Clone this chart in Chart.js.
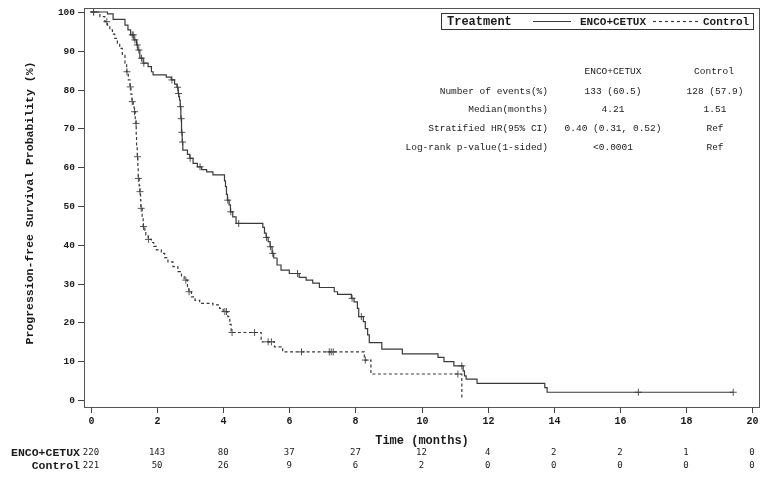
<!DOCTYPE html>
<html>
<head>
<meta charset="utf-8">
<script src="https://cdn.jsdelivr.net/npm/chart.js@4/dist/chart.umd.min.js"></script>
<style>
  body { margin: 0; background: #fff; }
  canvas { display: block; }
</style>
</head>
<body>
<canvas id="km" width="765" height="479"></canvas>
<script>
// Kaplan-Meier steps: time (months) where the curve drops, value after the drop (%)
const encoTime = [0, 0.5, 0.67, 1.03, 1.12, 1.2, 1.3, 1.38, 1.42, 1.48, 1.58, 1.73, 1.83, 1.88, 2.28, 2.43, 2.53, 2.6, 2.64, 2.66,
  2.68, 2.7, 2.72, 2.74, 2.76, 2.78, 2.92, 2.99, 3.09, 3.22, 3.35, 3.5, 3.69, 4.04, 4.07, 4.1, 4.13, 4.18, 4.22, 4.29,
  4.39, 5.2, 5.25, 5.3, 5.36, 5.42, 5.48, 5.53, 5.63, 5.75, 6.0, 6.3, 6.51, 6.71, 6.91, 7.36, 7.46, 7.88, 7.96, 8.06,
  8.1, 8.24, 8.3, 8.37, 8.42, 8.8, 9.42, 10.5, 10.68, 10.98, 11.26, 11.3, 11.35, 11.68, 13.73, 13.8, 19.43];
const encoSurv = [100, 99.5, 98.1, 96.6, 95.4, 94.1, 92.8, 91.5, 90.2, 88.1, 86.8, 85.9, 84.6, 83.8, 83.2, 82.5, 81.4, 80.6, 79.0, 78.2,
  77.3, 75.6, 72.5, 69.0, 66.5, 64.4, 63.3, 62.3, 61.0, 60.1, 59.4, 58.8, 58.0, 56.5, 55.0, 53.0, 51.5, 50.3, 48.5, 47.2,
  45.5, 44.5, 43.0, 41.9, 40.8, 39.5, 37.8, 36.6, 34.8, 33.5, 32.6, 31.6, 30.9, 30.1, 29.0, 27.9, 27.2, 26.2, 25.3, 23.6,
  21.5, 20.2, 18.4, 16.8, 14.8, 13.1, 11.9, 11.0, 9.9, 8.8, 7.5, 6.2, 5.4, 4.3, 3.2, 2.0, 2.0];
const encoCensor = [0.08, 1.25, 1.28, 1.33, 1.4, 1.45, 1.53, 1.6, 2.45, 2.62, 2.65, 2.71, 2.73, 2.75, 2.77, 3.0, 3.3,
  4.14, 4.23, 4.47, 5.31, 5.43, 5.5, 6.25, 7.9, 8.18, 11.22, 16.56, 19.43];

const ctrlTime = [0, 0.27, 0.42, 0.5, 0.57, 0.65, 0.72, 0.8, 0.87, 0.95, 1.03, 1.08, 1.13, 1.18, 1.21, 1.24, 1.28, 1.31, 1.34, 1.36,
  1.37, 1.38, 1.4, 1.42, 1.43, 1.46, 1.48, 1.5, 1.51, 1.55, 1.58, 1.63, 1.66, 1.73, 1.83, 1.9, 1.98, 2.13, 2.23, 2.33,
  2.48, 2.63, 2.74, 2.82, 2.92, 2.96, 3.04, 3.15, 3.29, 3.69, 3.89, 4.0, 4.14, 4.2, 4.24, 5.15, 5.55, 5.8, 8.27, 8.47, 11.22];
const ctrlSurv = [100, 98.8, 97.5, 96.6, 95.4, 94.3, 93.2, 91.9, 90.6, 88.8, 86.8, 84.6, 82.5, 80.7, 78.8, 76.9, 75.5, 74.3, 72.5, 71.3,
  68.0, 65.0, 62.7, 60.0, 57.1, 55.2, 53.7, 51.5, 49.4, 47.0, 44.7, 43.8, 42.5, 41.4, 40.6, 39.6, 38.7, 37.8, 36.7, 35.6,
  34.4, 33.1, 31.8, 30.9, 29.2, 27.9, 26.6, 25.7, 24.9, 24.5, 23.6, 22.8, 21.5, 19.5, 17.4, 15.0, 13.7, 12.4, 10.3, 6.7, 0];
const ctrlCensor = [0.08, 0.48, 1.09, 1.19, 1.25, 1.32, 1.365, 1.41, 1.435, 1.485, 1.52, 1.59, 1.74, 2.87, 2.97,
  4.05, 4.1, 4.27, 4.95, 5.36, 5.46, 6.37, 7.21, 7.27, 7.33, 8.3, 11.1];

const xTicks = [0, 2, 4, 6, 8, 10, 12, 14, 16, 18, 20];
const yTicks = [0, 10, 20, 30, 40, 50, 60, 70, 80, 90, 100];
const encoRisk = [220, 143, 80, 37, 27, 12, 4, 2, 2, 1, 0];
const ctrlRisk = [221, 50, 26, 9, 6, 2, 0, 0, 0, 0, 0];

const statLabels = ['Number of events(%)', 'Median(months)', 'Stratified HR(95% CI)', 'Log-rank p-value(1-sided)'];
const statEnco = ['133 (60.5)', '4.21', '0.40 (0.31, 0.52)', '<0.0001'];
const statCtrl = ['128 (57.9)', '1.51', 'Ref', 'Ref'];

const INK = '#3a3a3a';
const MONO = '"Liberation Mono", "Courier New", monospace';

function steps(times, surv) {
  return times.map((t, i) => ({ x: t, y: surv[i] }));
}
// censor mark sits on the curve value at that time
function survAt(times, surv, t) {
  let v = surv[0];
  for (let i = 0; i < times.length; i++) { if (times[i] <= t) v = surv[i]; }
  return v;
}
function marks(cens, times, surv) {
  return cens.map(t => ({ x: t, y: survAt(times, surv, t) }));
}

const decor = {
  id: 'decor',
  afterDraw(chart) {
    const ctx = chart.ctx;
    const a = chart.chartArea;
    const xs = chart.scales.x, ys = chart.scales.y;
    ctx.save();
    // frame
    ctx.strokeStyle = '#555';
    ctx.lineWidth = 1;
    ctx.strokeRect(a.left + 0.5, a.top + 0.5, a.right - a.left - 1, a.bottom - a.top);
    ctx.fillStyle = '#1a1a1a';
    ctx.strokeStyle = '#444';

    // y ticks
    ctx.font = 'bold 9.5px ' + MONO;
    ctx.textAlign = 'right';
    ctx.textBaseline = 'middle';
    yTicks.forEach(v => {
      const py = Math.round(ys.getPixelForValue(v)) + 0.5;
      ctx.beginPath(); ctx.moveTo(a.left - 6, py); ctx.lineTo(a.left, py); ctx.stroke();
      ctx.fillText(String(v), a.left - 9, py);
    });
    // x ticks
    ctx.textAlign = 'center';
    ctx.font = 'bold 10px ' + MONO;
    xTicks.forEach(v => {
      const px = Math.round(xs.getPixelForValue(v)) + 0.5;
      ctx.beginPath(); ctx.moveTo(px, a.bottom); ctx.lineTo(px, a.bottom + 6); ctx.stroke();
      ctx.fillText(String(v), px, a.bottom + 14);
    });

    // axis titles
    ctx.font = 'bold 12px ' + MONO;
    ctx.fillText('Time (months)', (a.left + a.right) / 2, 441);
    ctx.save();
    ctx.translate(30, 203);
    ctx.rotate(-Math.PI / 2);
    ctx.font = 'bold 11.5px ' + MONO;
    ctx.fillText('Progression-free Survival Probability (%)', 0, 0);
    ctx.restore();

    // number at risk
    ctx.font = 'bold 11.5px ' + MONO;
    ctx.textAlign = 'right';
    ctx.fillText('ENCO+CETUX', 80, 453);
    ctx.fillText('Control', 80, 466);
    ctx.font = '9px "DejaVu Sans Mono", monospace';
    ctx.textAlign = 'center';
    xTicks.forEach((v, i) => {
      const px = xs.getPixelForValue(v);
      ctx.fillText(String(encoRisk[i]), px, 453);
      ctx.fillText(String(ctrlRisk[i]), px, 466);
    });

    // legend box
    ctx.strokeStyle = '#333';
    ctx.strokeRect(441.5, 13.5, 312, 16);
    ctx.textAlign = 'left';
    ctx.font = 'bold 12px ' + MONO;
    ctx.fillText('Treatment', 447, 22);
    ctx.font = 'bold 11px ' + MONO;
    ctx.fillText('ENCO+CETUX', 580, 22);
    ctx.fillText('Control', 703, 22);
    ctx.strokeStyle = INK;
    ctx.lineWidth = 1.2;
    ctx.beginPath(); ctx.moveTo(533, 21.5); ctx.lineTo(571, 21.5); ctx.stroke();
    ctx.setLineDash([3, 3]);
    ctx.beginPath(); ctx.moveTo(653, 21.5); ctx.lineTo(698, 21.5); ctx.stroke();
    ctx.setLineDash([]);

    // statistics table
    ctx.font = '9.5px ' + MONO;
    ctx.textAlign = 'center';
    ctx.fillText('ENCO+CETUX', 613, 71);
    ctx.fillText('Control', 714, 71);
    statLabels.forEach((s, i) => {
      const py = 91 + i * 18.8;
      ctx.textAlign = 'right';
      ctx.fillText(s, 548, py);
      ctx.textAlign = 'center';
      ctx.fillText(statEnco[i], 613, py);
      ctx.fillText(statCtrl[i], 715, py);
    });
    ctx.restore();
  }
};

new Chart(document.getElementById('km'), {
  type: 'line',
  data: {
    datasets: [
      { label: 'ENCO+CETUX', data: steps(encoTime, encoSurv), stepped: true, borderColor: INK, borderWidth: 1.2, pointRadius: 0, fill: false },
      { label: 'Control', data: steps(ctrlTime, ctrlSurv), stepped: true, borderColor: INK, borderWidth: 1.2, borderDash: [3, 2.5], pointRadius: 0, fill: false },
      { label: 'ENCO+CETUX censored', data: marks(encoCensor, encoTime, encoSurv), showLine: false, pointStyle: 'cross', pointRadius: 3.5, borderColor: '#555', borderWidth: 1 },
      { label: 'Control censored', data: marks(ctrlCensor, ctrlTime, ctrlSurv), showLine: false, pointStyle: 'cross', pointRadius: 3.5, borderColor: '#555', borderWidth: 1 }
    ]
  },
  options: {
    responsive: false,
    animation: false,
    devicePixelRatio: 1,
    layout: { padding: { left: 84, top: 8, right: 3, bottom: 72 } },
    plugins: { legend: { display: false }, tooltip: { enabled: false } },
    scales: {
      x: { type: 'linear', min: -0.21, max: 20.24, display: false,
           afterBuildTicks: s => { s.ticks = xTicks.map(v => ({ value: v })); } },
      y: { type: 'linear', min: -1.8, max: 101.03, display: false,
           afterBuildTicks: s => { s.ticks = yTicks.map(v => ({ value: v })); } }
    }
  },
  plugins: [decor]
});
</script>
</body>
</html>
